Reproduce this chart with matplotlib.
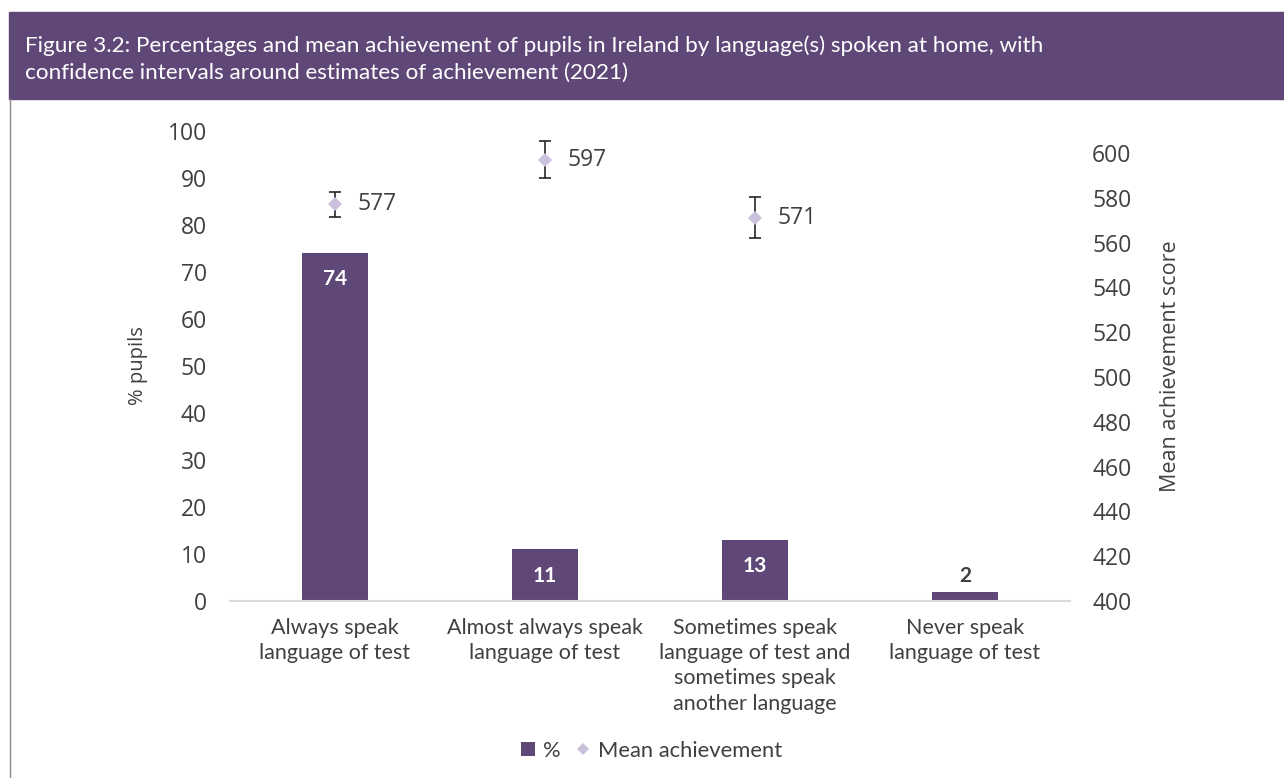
import matplotlib
matplotlib.use("Agg")
import matplotlib.pyplot as plt
from matplotlib.patches import Rectangle
from matplotlib.lines import Line2D

# --- data -------------------------------------------------------------
categories = [
    "Always speak\nlanguage of test",
    "Almost always speak\nlanguage of test",
    "Sometimes speak\nlanguage of test and\nsometimes speak\nanother language",
    "Never speak\nlanguage of test",
]
pct_pupils = [74, 11, 13, 2]
mean_score = [577, 597, 571]          # no estimate for the last group
score_ci = [5.6, 8.1, 9.2]            # half-width of confidence interval
pct_ticks = list(range(0, 101, 10))
score_ticks = list(range(400, 601, 20))

title = ("Figure 3.2: Percentages and mean achievement of pupils in Ireland by language(s) spoken at home, with\n"
         "confidence intervals around estimates of achievement (2021)")

# --- style --------------------------------------------------------------
PURPLE = "#5F4777"
LAVENDER = "#CBC1DD"
TEXT = "#404040"
TICK_FONT = ["Open Sans", "DejaVu Sans"]
LABEL_FONT = ["Lato", "DejaVu Sans"]

W, H = 1284, 778
fig = plt.figure(figsize=(W / 100, H / 100), dpi=100)

# header band and left frame line
fig.patches.append(Rectangle((9 / W, 1 - 99 / H), 1 - 9 / W, 87 / H,
                             transform=fig.transFigure, color=PURPLE, zorder=0))
fig.lines.append(Line2D([9.5 / W, 9.5 / W], [0, 1 - 99 / H], transform=fig.transFigure,
                        color="#8c8c8c", lw=1.0))
fig.text(25 / W, 1 - 35 / H, title, color="white", fontsize=16.2, family=LABEL_FONT,
         ha="left", va="top", linespacing=1.45)

ax = fig.add_axes([230 / W, 1 - 601 / H, 840 / W, 470.5 / H])
ax2 = ax.twinx()

x = list(range(len(categories)))
bars = ax.bar(x, pct_pupils, width=0.314, color=PURPLE, zorder=2)
ax.set_xlim(-0.5, len(categories) - 0.5)
ax.set_ylim(0, 100)
ax.set_yticks(pct_ticks)
ax.set_xticks(x)
ax.set_xticklabels(categories, family=LABEL_FONT, fontsize=15.5, color=TEXT, linespacing=1.33)
ax.tick_params(axis="x", length=0, pad=12)
ax.tick_params(axis="y", length=0, pad=16.5, labelsize=16.5, labelcolor=TEXT)
for lab in ax.get_yticklabels():
    lab.set_family(TICK_FONT)

for s in ["top", "right", "left"]:
    ax.spines[s].set_visible(False)
    ax2.spines[s].set_visible(False)
ax2.spines["bottom"].set_visible(False)
ax.spines["bottom"].set_color("#d9d9d9")
ax.spines["bottom"].set_linewidth(1.5)

# bar value labels
for xi, v in zip(x, pct_pupils):
    if v >= 5:
        ax.annotate(str(v), (xi, v), xytext=(0, -19), textcoords="offset points",
                    ha="center", va="center", color="white", fontweight="bold",
                    fontsize=15, family=LABEL_FONT, zorder=3)
    else:
        ax.annotate(str(v), (xi, v), xytext=(0, 11), textcoords="offset points",
                    ha="center", va="center", color=TEXT, fontweight="bold",
                    fontsize=15, family=LABEL_FONT, zorder=3)

# mean achievement with confidence intervals
xs = x[:len(mean_score)]
ax2.errorbar(xs, mean_score, yerr=score_ci, fmt="none", ecolor="#262626",
             elinewidth=1.2, capsize=4.2, capthick=1.2, zorder=3)
ax2.plot(xs, mean_score, ls="none", marker="D", markersize=7.6, color=LAVENDER,
         markeredgewidth=0, zorder=4)
for xi, v in zip(xs, mean_score):
    ax2.annotate(str(v), (xi, v), xytext=(16, 0), textcoords="offset points",
                 ha="left", va="center", color=TEXT, fontsize=16.5, family=TICK_FONT)

ax2.set_ylim(400, 610)
ax2.set_yticks(score_ticks)
ax2.tick_params(axis="y", length=0, pad=16, labelsize=16.5, labelcolor=TEXT)
for lab in ax2.get_yticklabels():
    lab.set_family(TICK_FONT)

ax.set_ylabel("% pupils", family=TICK_FONT, fontsize=14.5, color=TEXT)
ax.yaxis.set_label_coords((148 - 230) / 840, 0.5)
ax2.set_ylabel("Mean achievement score", family=TICK_FONT, fontsize=15.5, color=TEXT)
ax2.yaxis.set_label_coords((1160 - 230) / 840, 0.5)

# legend
handles = [
    Line2D([], [], ls="none", marker="s", markersize=9.4, color=PURPLE, markeredgewidth=0),
    Line2D([], [], ls="none", marker="D", markersize=6.2, color=LAVENDER, markeredgewidth=0),
]
fig.legend(handles, ["%", "Mean achievement"], loc="center",
           bbox_to_anchor=(651 / W, 1 - 751 / H), ncol=2, frameon=False,
           handlelength=0.8, handletextpad=0.3, columnspacing=0.6,
           prop={"family": LABEL_FONT, "size": 15.8}, labelcolor=TEXT)

fig.savefig("out.png", dpi=100)
